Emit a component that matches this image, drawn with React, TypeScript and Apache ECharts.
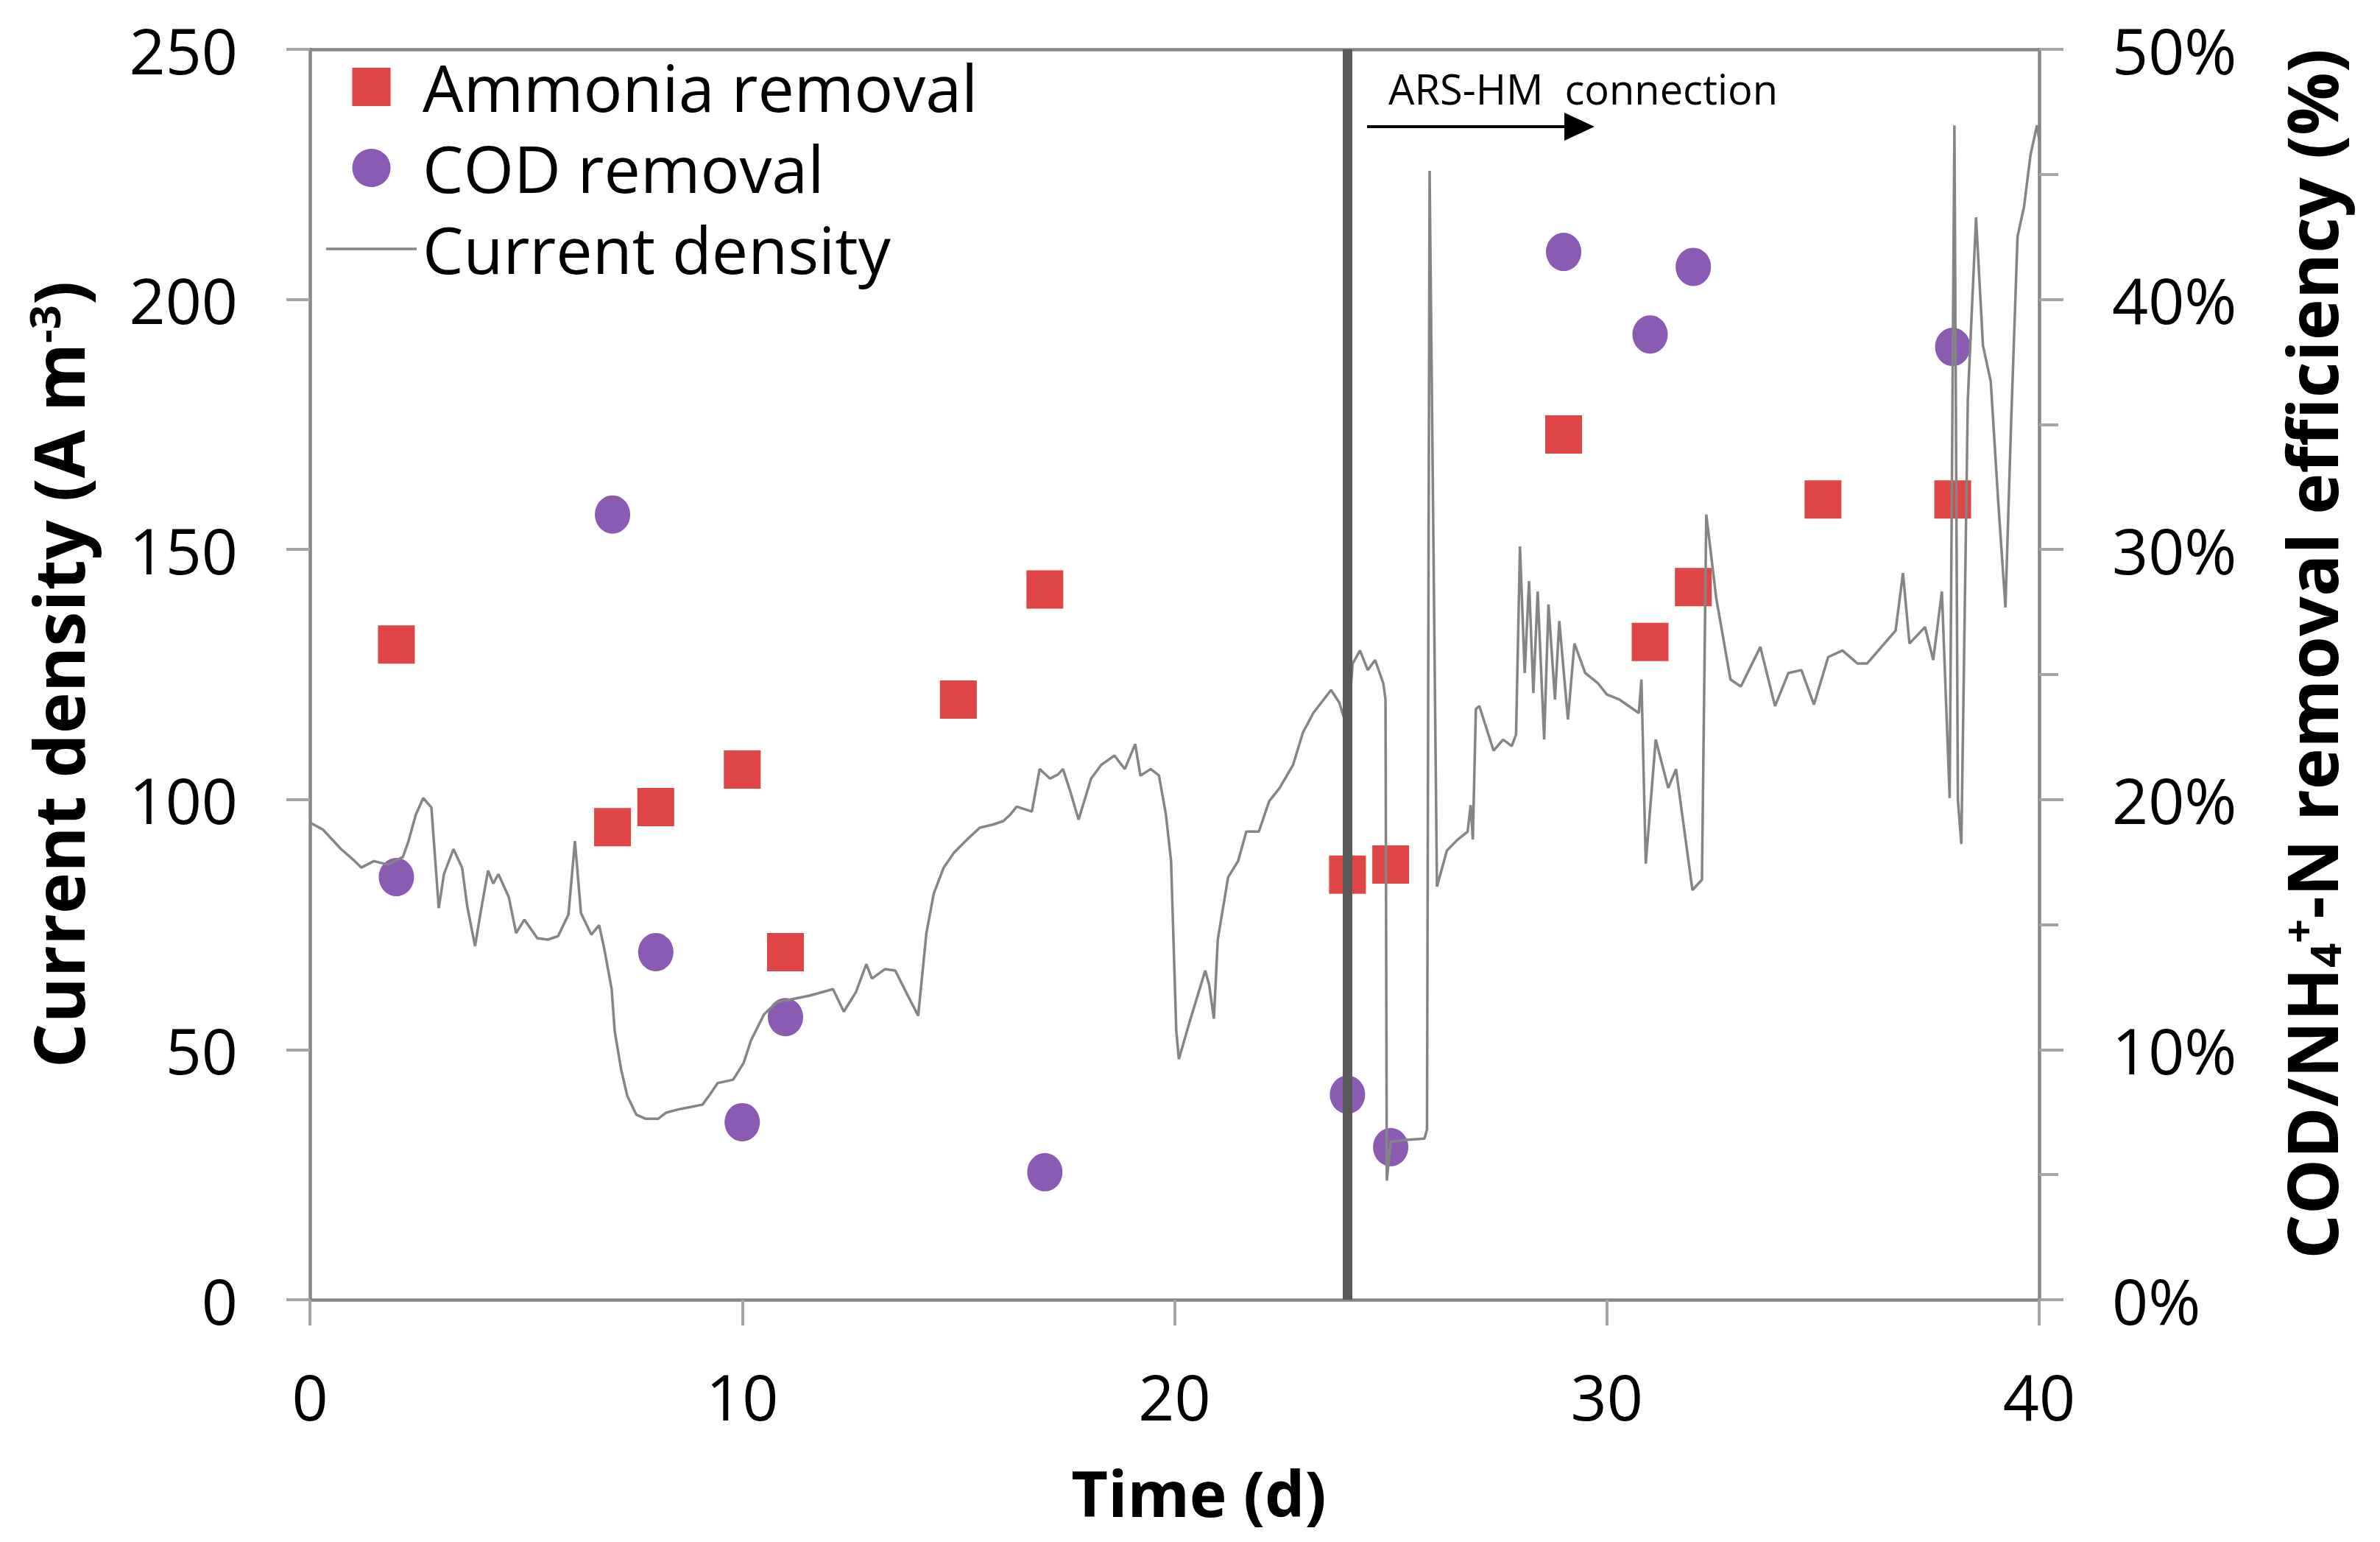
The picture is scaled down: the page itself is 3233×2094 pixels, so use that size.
import React, { useEffect, useRef } from "react";
import * as echarts from "echarts";

// ---- data ----
const ammoniaDays = [2, 7, 8, 10, 11, 15, 17, 24, 25, 29, 31, 32, 35, 38];
const ammoniaPct = [26.2, 18.9, 19.7, 21.2, 13.9, 24.0, 28.4, 17.0, 17.4, 34.6, 26.3, 28.5, 32.0, 32.0];

const codDays = [2, 7, 8, 10, 11, 17, 24, 25, 29, 31, 32, 38];
const codPct = [16.9, 31.4, 13.9, 7.1, 11.3, 5.1, 8.2, 6.1, 41.9, 38.6, 41.3, 38.1];

const cdDays = [
  0, 0.3, 0.72, 1.0, 1.19, 1.48, 1.8, 2.15, 2.27, 2.45, 2.62, 2.81, 2.98, 3.1, 3.32, 3.52, 3.64, 3.82, 3.94,
  4.12, 4.24, 4.36, 4.6, 4.77, 4.96, 5.26, 5.5, 5.74, 5.98, 6.13, 6.27, 6.51, 6.69, 6.81, 6.98, 7.05, 7.2,
  7.34, 7.55, 7.76, 8.06, 8.24, 8.5, 8.72, 9.08, 9.25, 9.43, 9.79, 10.03, 10.2, 10.5, 10.8, 11.1, 11.56,
  12.1, 12.35, 12.63, 12.87, 13.0, 13.3, 13.54, 13.83, 14.07, 14.26, 14.43, 14.66, 14.9, 15.2, 15.5, 15.8,
  16.04, 16.2, 16.35, 16.7, 16.88, 17.12, 17.3, 17.42, 17.59, 17.78, 18.07, 18.3, 18.61, 18.85, 19.09,
  19.21, 19.45, 19.64, 19.8, 19.92, 20.04, 20.1, 20.35, 20.71, 20.8, 20.91, 21.0, 21.24, 21.47, 21.66,
  21.95, 22.19, 22.43, 22.74, 22.97, 23.21, 23.62, 23.81, 24.0, 24.12, 24.29, 24.47, 24.64, 24.83, 24.88,
  24.91, 25.0, 25.4, 25.78, 25.84, 25.9, 26.07, 26.3, 26.55, 26.78, 26.85, 26.9, 26.97, 27.05, 27.38,
  27.6, 27.8, 27.9, 27.99, 28.1, 28.2, 28.3, 28.4, 28.55, 28.65, 28.8, 28.9, 29.1, 29.25, 29.5, 29.8,
  30.0, 30.29, 30.74, 30.8, 30.9, 31.13, 31.42, 31.6, 31.98, 32.2, 32.3, 32.53, 32.86, 33.1, 33.55,
  33.89, 34.2, 34.5, 34.79, 35.12, 35.45, 35.8, 36.02, 36.35, 36.68, 36.85, 37.0, 37.36, 37.55, 37.75,
  37.93, 38.04, 38.12, 38.2, 38.35, 38.54, 38.7, 38.88, 39.05, 39.22, 39.35, 39.5, 39.65, 39.8, 39.95, 40,
];
const cdValues = [
  95.4, 94, 90.1, 88, 86.4, 87.7, 87, 88.5, 91.4, 97, 100.3, 98.4, 78.3, 85.1, 90.1, 86.4, 78.6, 70.7, 77,
  85.8, 83.2, 85.1, 80.5, 73.3, 76, 72.3, 72, 72.7, 77, 91.7, 77.3, 73, 74.9, 70.1, 62.1, 53.7, 46,
  40.8, 37, 36.2, 36.2, 37.4, 38, 38.4, 39, 41, 43.3, 44, 47.3, 51.8, 57, 59.5, 60, 60.8,
  62.1, 57.6, 61.5, 67.1, 64.2, 66.1, 65.8, 60.8, 56.8, 73.3, 81.2, 86.4, 89.4, 92, 94.4, 95,
  95.7, 97, 98.6, 97.6, 106.1, 104.2, 105, 106.1, 101.6, 96, 104.2, 106.9, 108.8, 106.1, 111.1,
  104.8, 106.1, 104.8, 97, 87.7, 53.7, 48.1, 55.6, 65.8, 63, 56.2, 72, 84.5, 87.7, 93.6,
  93.6, 99.7, 102.3, 106.9, 113.4, 117.3, 121.9, 119.4, 114.1, 127.2, 129.8, 125.9, 127.9, 123.2, 120,
  23.8, 31.6, 32, 32.2, 34, 225.7, 82.6, 89.8, 92, 93.6, 98.9, 92, 118.1, 118.7, 109.8,
  112, 110.7, 113, 150.6, 125.3, 143.7, 121.3, 141.6, 112, 139, 120, 135.7, 116, 131.2, 125.3, 123.2,
  121, 120, 117.3, 124, 87.2, 112, 102.3, 106.1, 81.9, 84, 157, 140.3, 124, 122.6, 130.5,
  118.7, 125.3, 125.9, 119, 128.5, 129.8, 127.2, 127.2, 130.5, 133.8, 145.3, 131.2, 134.5, 127.9, 141.6,
  100.3, 234.8, 100, 91.1, 180, 216.4, 190.8, 183.6, 160, 138.4, 175, 212.6, 218.5, 228.9, 234.8, 232,
];

const xTicks = { min: 0, max: 40, interval: 10 };
const leftTicks = { min: 0, max: 250, interval: 50 };
const rightTicks = { min: 0, max: 50, interval: 10 };
const connectionDay = 24;

const FONT = "Open Sans";
const AXIS_COLOR = "#868686";
const TICK_COLOR = "#a4a4a4";
const LINE_COLOR = "#858585";
const RED = "#E04545";
const PURPLE = "#8B5BB4";

export default function App() {
  const ref = useRef<HTMLDivElement>(null);

  useEffect(() => {
    if (!ref.current) return;
    const chart = echarts.init(ref.current, null, { renderer: "svg" });

    const titleRich = {
      b: { fontFamily: FONT, fontWeight: "bold", fontSize: 95, color: "#000" },
      sup: { fontFamily: FONT, fontWeight: "bold", fontSize: 58, color: "#000", verticalAlign: "top" },
      sub: { fontFamily: FONT, fontWeight: "bold", fontSize: 58, color: "#000", verticalAlign: "bottom" },
    };

    const option: any = {
      animation: false,
      backgroundColor: "#ffffff",
      grid: { left: 421, right: 463, top: 67, bottom: 329, containLabel: false },
      legend: {
        left: 438,
        top: 69,
        orient: "vertical",
        itemWidth: 123,
        itemHeight: 52,
        itemGap: 22,
        selectedMode: false,
        textStyle: {
          fontFamily: FONT,
          fontSize: 88,
          color: "#000",
          padding: [0, 0, 0, 3],
        },
        data: [
          { name: "Ammonia removal", icon: "path://M0 0H10V10H0Z", itemStyle: { color: RED, opacity: 1 } },
          { name: "COD removal", icon: "circle", itemStyle: { color: PURPLE, opacity: 1 } },
          { name: "Current density", icon: "path://M0 0H120V3.5H0Z", itemStyle: { color: LINE_COLOR, opacity: 1 } },
        ],
      },
      xAxis: [
        {
          type: "value",
          position: "bottom",
          min: xTicks.min,
          max: xTicks.max,
          interval: xTicks.interval,
          name: "Time (d)",
          nameLocation: "middle",
          nameGap: 218,
          nameTextStyle: {
            fontFamily: FONT,
            fontWeight: "bold",
            fontSize: 86,
            color: "#000",
            padding: [0, 0, 0, 66],
          },
          axisLine: { show: true, onZero: false, lineStyle: { color: AXIS_COLOR, width: 4.5 } },
          axisTick: { show: true, length: 35, lineStyle: { color: TICK_COLOR, width: 4 } },
          axisLabel: { fontFamily: FONT, fontSize: 86, color: "#000", margin: 87 },
          splitLine: { show: false },
        },
        {
          type: "value",
          position: "top",
          min: xTicks.min,
          max: xTicks.max,
          interval: xTicks.interval,
          axisLine: { show: true, onZero: false, lineStyle: { color: AXIS_COLOR, width: 4.5 } },
          axisTick: { show: false },
          axisLabel: { show: false },
          splitLine: { show: false },
        },
      ],
      yAxis: [
        {
          type: "value",
          position: "left",
          min: leftTicks.min,
          max: leftTicks.max,
          interval: leftTicks.interval,
          name: "{b|Current density (A m}{sup|-3}{b|)}",
          nameLocation: "middle",
          nameRotate: 90,
          nameGap: 296,
          nameTextStyle: { rich: titleRich, fontFamily: FONT, fontWeight: "bold", fontSize: 95, color: "#000" },
          axisLine: { show: true, onZero: false, lineStyle: { color: AXIS_COLOR, width: 4.5 } },
          axisTick: { show: true, length: 32, lineStyle: { color: TICK_COLOR, width: 4 } },
          axisLabel: { fontFamily: FONT, fontSize: 86, color: "#000", margin: 98 },
          splitLine: { show: false },
        },
        {
          type: "value",
          position: "right",
          min: rightTicks.min,
          max: rightTicks.max,
          interval: rightTicks.interval,
          name: "{b|COD/NH}{sub|4}{sup|+}{b|-N removal efficiency (%)}",
          nameLocation: "middle",
          nameRotate: 90,
          nameGap: 321,
          nameTextStyle: {
            rich: titleRich,
            fontFamily: FONT,
            fontWeight: "bold",
            fontSize: 95,
            color: "#000",
            padding: [0, 0, 0, 56],
          },
          axisLine: { show: true, onZero: false, lineStyle: { color: AXIS_COLOR, width: 4.5 } },
          axisTick: { show: true, length: 33, lineStyle: { color: TICK_COLOR, width: 4 } },
          minorTick: { show: true, splitNumber: 2, length: 26, lineStyle: { color: TICK_COLOR, width: 4 } },
          axisLabel: { fontFamily: FONT, fontSize: 86, color: "#000", margin: 99, formatter: "{value}%" },
          splitLine: { show: false },
          minorSplitLine: { show: false },
        },
      ],
      series: [
        {
          name: "Ammonia removal",
          type: "scatter",
          xAxisIndex: 0,
          yAxisIndex: 1,
          symbol: "rect",
          symbolSize: [50, 52],
          itemStyle: { color: RED, opacity: 1 },
          data: ammoniaDays.map((d, i) => [d, ammoniaPct[i]]),
          z: 2,
        },
        {
          name: "COD removal",
          type: "scatter",
          xAxisIndex: 0,
          yAxisIndex: 1,
          symbol: "circle",
          symbolSize: [48, 52],
          itemStyle: { color: PURPLE, opacity: 1 },
          data: codDays.map((d, i) => [d, codPct[i]]),
          z: 2,
        },
        {
          name: "Current density",
          type: "line",
          xAxisIndex: 0,
          yAxisIndex: 0,
          symbol: "none",
          showSymbol: false,
          lineStyle: { color: LINE_COLOR, width: 3.5 },
          itemStyle: { color: LINE_COLOR },
          data: cdDays.map((d, i) => [d, cdValues[i]]),
          z: 3,
          markLine: {
            silent: true,
            symbol: ["none", "none"],
            label: { show: false },
            lineStyle: { color: "#5a5a5a", width: 13, type: "solid" },
            data: [{ xAxis: connectionDay }],
            z: 4,
          },
        },
      ],
      graphic: [
        {
          type: "text",
          left: 1886,
          top: 92,
          style: {
            text: "ARS-HM  connection",
            fontFamily: FONT,
            fontSize: 56,
            fill: "#000",
          },
          z: 10,
        },
        {
          type: "line",
          shape: { x1: 1857, y1: 172, x2: 2132, y2: 172 },
          style: { stroke: "#000", lineWidth: 4 },
          z: 10,
        },
        {
          type: "polygon",
          shape: { points: [[2125, 153], [2166, 172], [2125, 191]] },
          style: { fill: "#000" },
          z: 10,
        },
      ],
    };

    chart.setOption(option);
    return () => chart.dispose();
  }, []);

  return (
    <div
      ref={ref}
      style={{ position: "fixed", left: 0, top: 0, width: "3233px", height: "2094px", background: "#fff" }}
    />
  );
}
